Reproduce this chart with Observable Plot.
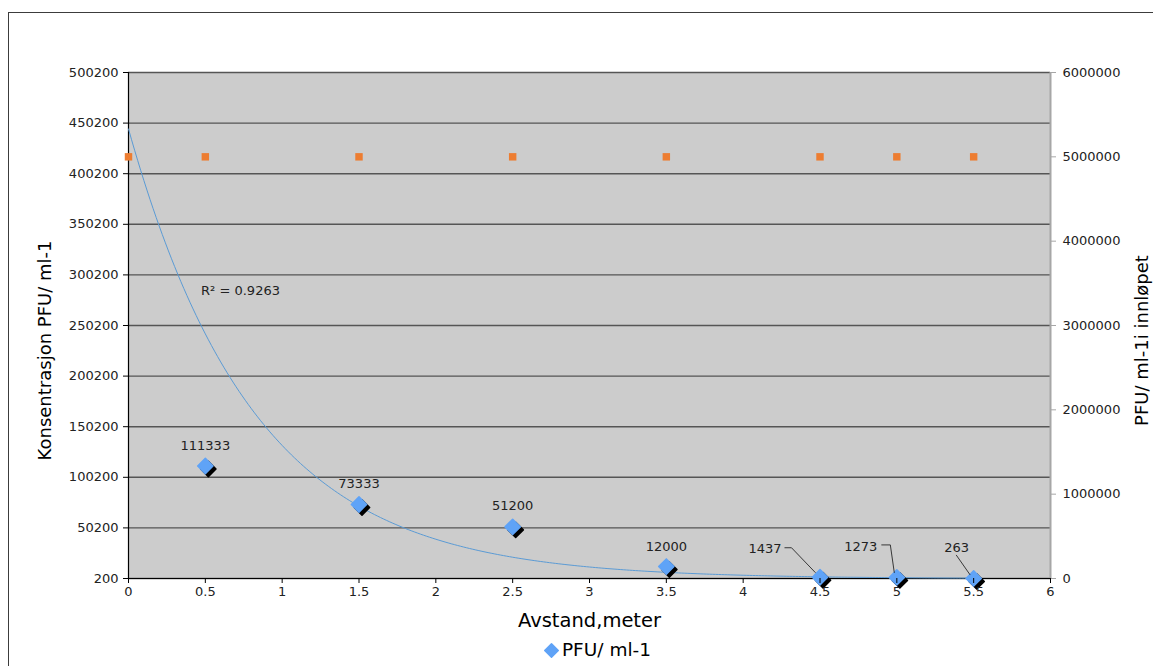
<!DOCTYPE html>
<html><head><meta charset="utf-8">
<script src="https://cdn.jsdelivr.net/npm/d3@7"></script>
<script src="https://cdn.jsdelivr.net/npm/@observablehq/plot@0.6"></script>
<style>
body{margin:0;background:#fff;font-family:"DejaVu Sans",Verdana,sans-serif;}
#wrap{position:relative;width:1153px;height:666px;overflow:hidden;}
#border{position:absolute;left:8px;top:12px;width:1300px;height:800px;border:1px solid #3c3c3c;}
#chart{position:absolute;left:0;top:0;}
</style></head><body>
<div id="wrap"><div id="border"></div><div id="chart"></div></div>
<script>
// Data
const distance = [0.5, 1.5, 2.5, 3.5, 4.5, 5, 5.5];
const pfu = [111333, 73333, 51200, 12000, 1437, 1273, 263];
const inletDistance = [0, 0.5, 1.5, 2.5, 3.5, 4.5, 5, 5.5];
const inletPfu = [5000000, 5000000, 5000000, 5000000, 5000000, 5000000, 5000000, 5000000];
const leftTicks = [200, 50200, 100200, 150200, 200200, 250200, 300200, 350200, 400200, 450200, 500200];
const rightTicks = [0, 1000000, 2000000, 3000000, 4000000, 5000000, 6000000];
const xTicks = [0, 0.5, 1, 1.5, 2, 2.5, 3, 3.5, 4, 4.5, 5, 5.5, 6];
const r2Label = "R² = 0.9263";
const xTitle = "Avstand,meter";
const yTitle = "Konsentrasjon PFU/ ml-1";
const y2Title = "PFU/ ml-1i innløpet";
const legendLabel = "PFU/ ml-1";

// Styling
const blue = "#5fa3f7", orange = "#ed7d31", trendBlue = "#5b9bd5";
const labelOffsets = [[0,-20],[0,-21],[0,-21],[0,-20],[-55,-28],[-36,-31],[-17,-31]];
const leaders = [
  {i: 4, pts: [[-35,-29],[-28,-29],[-4,-4]]},
  {i: 5, pts: [[-15,-32],[-6,-32],[-2,-4]]},
  {i: 6, pts: [[-17,-23],[-3,-3]]}
];
const titleFont = {fill: "#000", textAnchor: "middle", lineAnchor: "middle"};

// Right-axis values mapped onto the left-axis domain
const leftMin = leftTicks[0], leftMax = leftTicks[leftTicks.length-1];
const rightMax = rightTicks[rightTicks.length-1];
const toLeft = v => leftMin + v * (leftMax - leftMin) / rightMax;
const fromLeft = d => Math.round((d - leftMin) * rightMax / (leftMax - leftMin));

// Exponential trendline (least squares on ln y), as Excel does
const lx = distance, ly = pfu.map(Math.log);
const mx = d3.mean(lx), my = d3.mean(ly);
const b = d3.sum(lx, (x, k) => (x - mx) * (ly[k] - my)) / d3.sum(lx, x => (x - mx) ** 2);
const a = Math.exp(my - b * mx);
const trend = d3.range(0, 5.5001, 0.02).map(x => ({x, y: a * Math.exp(b * x)}));

const pts = distance.map((x, k) => ({x, y: pfu[k]}));
const inlet = inletDistance.map((x, k) => ({x, y: toLeft(inletPfu[k])}));

const leaderMark = (index, scales) => {
  const g = d3.create("svg:g").attr("stroke", "#111").attr("fill", "none").attr("stroke-width", 0.8);
  for (const {i, pts: p} of leaders) {
    const cx = scales.x(distance[i]), cy = scales.y(pfu[i]);
    g.append("path").attr("d", d3.line()(p.map(([dx, dy]) => [cx + dx, cy + dy])));
  }
  return g.node();
};

const plot = Plot.plot({
  width: 1153, height: 666,
  marginLeft: 128, marginRight: 103, marginTop: 72, marginBottom: 88,
  style: {fontFamily: "'DejaVu Sans', Verdana, sans-serif", fontSize: "13px", color: "#222", background: "transparent"},
  x: {domain: [0, 6]},
  y: {domain: [leftMin, leftMax]},
  marks: [
    Plot.frame({fill: "#cccccc", stroke: null}),
    Plot.gridY(leftTicks, {stroke: "#555", strokeOpacity: 1, strokeWidth: 1.4}),
    Plot.ruleX([6], {stroke: "#a6a6a6", strokeWidth: 2}),
    Plot.ruleX([0], {stroke: "#000", strokeWidth: 1.2}),
    Plot.ruleY([leftMin], {stroke: "#000", strokeWidth: 1.2}),
    Plot.line(trend, {x: "x", y: "y", stroke: trendBlue, strokeWidth: 1}),
    Plot.dot(inlet, {x: "x", y: "y", symbol: "square", r: 4.2, fill: orange}),
    Plot.dot(pts, {x: "x", y: "y", symbol: "square", rotate: 45, r: 6.1, fill: "#000", stroke: "#000", strokeWidth: 1.5, strokeLinejoin: "round", dx: 3, dy: 3}),
    Plot.dot(pts, {x: "x", y: "y", symbol: "square", rotate: 45, r: 6.1, fill: blue, stroke: blue, strokeWidth: 1.5, strokeLinejoin: "round"}),
    ...labelOffsets.map(([dx, dy], k) => Plot.text([pts[k]], {x: "x", y: "y", text: d => String(d.y), dx, dy, fontSize: 13, fill: "#222"})),
    leaderMark,
    Plot.text([r2Label], {frameAnchor: "top-left", text: d => d, dx: 112, dy: 218, fontSize: 13, fill: "#222", textAnchor: "middle", lineAnchor: "middle"}),
    Plot.axisX(xTicks, {anchor: "bottom", tickSize: 5, tickPadding: 3, tickFormat: d => String(d), label: null, stroke: "#000", fill: "#222"}),
    Plot.axisY(leftTicks, {anchor: "left", tickSize: 5, tickPadding: 5, tickFormat: d => String(d), label: null, stroke: "#000", fill: "#222"}),
    Plot.axisY(rightTicks.map(toLeft), {anchor: "right", tickSize: 5, tickPadding: 7, tickFormat: d => String(fromLeft(d)), label: null, stroke: "#a6a6a6", fill: "#222"}),
    Plot.text([yTitle], {frameAnchor: "left", text: d => d, dx: -83, dy: 25, rotate: -90, ...titleFont, fontSize: 18}),
    Plot.text([y2Title], {frameAnchor: "right", text: d => d, dx: 92, dy: 15, rotate: -90, ...titleFont, fontSize: 18}),
    Plot.text([xTitle], {frameAnchor: "bottom", text: d => d, dy: 42, ...titleFont, fontSize: 19.5}),
    Plot.dot([legendLabel], {frameAnchor: "bottom", dx: -38, dy: 72, symbol: "square", rotate: 45, r: 5.4, fill: blue, stroke: blue, strokeWidth: 1.5, strokeLinejoin: "round"}),
    Plot.text([legendLabel], {frameAnchor: "bottom", text: d => d, dx: 17, dy: 72, ...titleFont, fontSize: 18.5})
  ]
});
document.getElementById("chart").appendChild(plot);
</script>
</body></html>
